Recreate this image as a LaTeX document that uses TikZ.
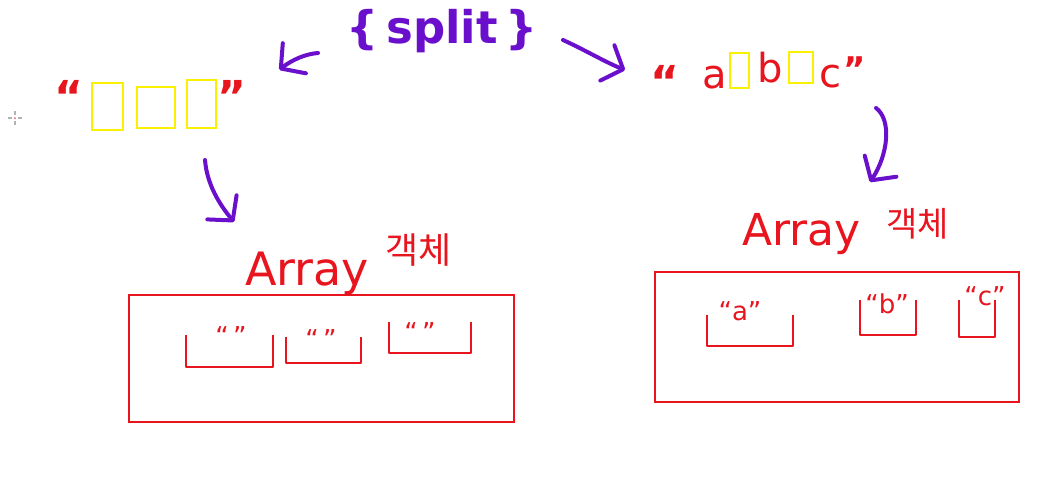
\documentclass[tikz,border=0pt]{standalone}
\usepackage{fontspec}
\setmainfont{DejaVu Sans}
\newfontfamily\kr{Noto Sans CJK KR}
\usetikzlibrary{arrows.meta,calc}
\definecolor{pen}{RGB}{106,16,204}
\definecolor{ink}{RGB}{232,20,30}
\definecolor{hl}{RGB}{250,240,0}
\tikzset{
  conn/.style={draw=pen, line width=4pt, line cap=round, line join=round,
    -{Straight Barb[length=17pt,width=38pt,line cap=round,line join=round]}},
  qt/.style={text=ink, inner sep=0pt, anchor=base, font=\fontsize{44}{46}\selectfont\bfseries},
  lt/.style={text=ink, inner sep=0pt, anchor=base, font=\fontsize{40}{42}\selectfont},
  ybox/.style={draw=hl, line width=2.5pt, inner sep=0pt},
  bigbox/.style={draw=ink, line width=2.6pt, inner sep=0pt},
  slot/.style={inner sep=0pt},
  slotq/.style={text=ink, inner sep=0pt, anchor=base, font=\fontsize{26}{28}\selectfont},
  lab/.style={text=ink, inner sep=0pt, anchor=base west, font=\fontsize{46}{48}\selectfont},
  ushape/.style={draw=ink, line width=2.4pt, line join=round},
}
\begin{document}
\begin{tikzpicture}[x=1pt,y=-1pt]
\fill[white] (0,0) rectangle (1062,479);
\useasboundingbox (0,0) rectangle (1062,479);
% cursor mark
\draw[gray!60, line width=1.5pt] (8,118) -- (12,118) (18,118) -- (22,118) (15,111) -- (15,115) (15,121) -- (15,125);
\fill[ink!70] (15,118) circle (1pt);

% split
\node[text=pen, inner sep=0pt, font=\fontsize{45}{48}\selectfont\bfseries] (split) at (442,31) {\{\,split\,\}};

% left string
\node[qt] (lo) at (69,112) {“};
\node[ybox, minimum width=31pt, minimum height=47pt] (ls1) at (107.5,106.5) {};
\node[ybox, minimum width=38pt, minimum height=41pt] (ls2) at (156,107.5) {};
\node[ybox, minimum width=29pt, minimum height=48pt] (ls3) at (201.5,104) {};
\node[qt] (lc) at (232,112) {”};

% right string
\node[qt] (ro) at (665,97) {“};
\node[lt] (ra) at (715,88) {a};
\node[ybox, minimum width=19pt, minimum height=35pt] (rs1) at (739.5,70.5) {};
\node[lt] (rb) at (770,82) {b};
\node[ybox, minimum width=24pt, minimum height=31pt] (rs2) at (801,67.5) {};
\node[lt] (rc) at (830,87) {c};
\node[qt, font=\fontsize{34}{36}\selectfont\bfseries] (rcl) at (855,81) {”};

% labels
\node[lab] (llab) at (245,285) {Array\hspace{16pt}\raisebox{22pt}{\kr\fontsize{36}{38}\selectfont 객체}};
\node[lab, font=\fontsize{44}{46}\selectfont] (rlab) at (742,245) {Array\hspace{26pt}\raisebox{9pt}{\kr\fontsize{34}{36}\selectfont 객체}};

% big boxes
\node[bigbox, minimum width=385pt, minimum height=127pt] (lbox) at (321.5,358.5) {};
\node[bigbox, minimum width=364pt, minimum height=130pt] (rbox) at (837,337) {};

% left slots
\node[slot, minimum width=87pt, minimum height=32pt] (l1) at (229.5,351) {};
\node[slot, minimum width=75pt, minimum height=26pt] (l2) at (323.5,350) {};
\node[slot, minimum width=82pt, minimum height=31pt] (l3) at (430,337.5) {};
\foreach \s in {l1,l2,l3}{
  \draw[ushape] (\s.north west) -- (\s.south west) -- (\s.south east) -- (\s.north east);
}
\node[slotq] (q1) at (231,345) {“\,”};
\node[slotq] (q2) at (321,348) {“\,”};
\node[slotq] (q3) at (420,341) {“\,”};

% right slots
\node[slot, minimum width=86pt, minimum height=31pt] (r1) at (750,330.5) {};
\node[slot, minimum width=56pt, minimum height=35pt] (r2) at (888,317.5) {};
\node[slot, minimum width=36pt, minimum height=37pt] (r3) at (977,318.5) {};
\foreach \s in {r1,r2,r3}{
  \draw[ushape] (\s.north west) -- (\s.south west) -- (\s.south east) -- (\s.north east);
}
\node[slotq] (qa) at (740,320) {“a”};
\node[slotq] (qb) at (887,313) {“b”};
\node[slotq] (qc) at (985,305) {“c”};

% connectors
\draw[conn] ($(split.center)+(-124,22)$) .. controls ($(split.center)+(-137,23)$) and ($(split.center)+(-150,29)$) .. ($(ls3.north east)+(62,-9)$);
\draw[conn] ($(split.center)+(121,9)$) .. controls ($(split.center)+(143,19)$) and ($(split.center)+(163,31)$) .. ($(rs1.center)+(-114.5,-0.5)$);
\draw[conn] ($(ls3.center)+(3.5,56)$) .. controls ($(ls3.center)+(5.5,81)$) and ($(ls3.center)+(18.5,101)$) .. ($(llab.base west)+(-11,-63)$);
\draw[conn] ($(rc.base)+(46,21)$) .. controls ($(rc.base)+(62,33)$) and ($(rc.base)+(58,68)$) .. ($(rlab.base west)+(128,-63)$);
\end{tikzpicture}
\end{document}
